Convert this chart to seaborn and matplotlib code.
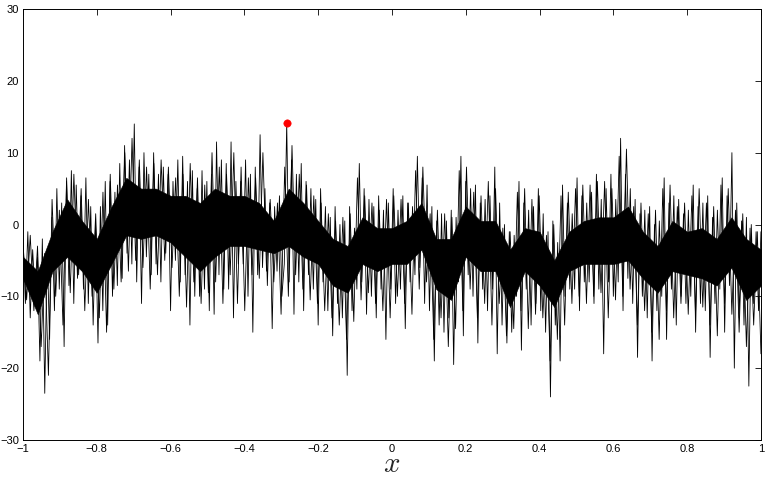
import numpy as np
import pandas as pd
import seaborn as sns
import matplotlib.pyplot as plt

# dense core of the trace (upper / lower edge), 51 columns across [-1, 1]
core_hi = [-4.5, -6.5, -1, 3.5, 0.5, -2, 2.5, 6.5, 5, 5, 4, 4, 3, 5, 4, 4, 3, 0.5, 5,
           3, 0.5, -2, -3, 1, -0.5, -0.5, 0.5, 3, -2, -2, 2.5, 0.5, 0.5, -3.5, -0.5,
           -1, -5, -1, 0.5, 1, 1, 2.5, -1, -3, 0.5, -1, -0.5, -2, 1, -2, -3.5]
core_lo = [-7.5, -12.5, -6.5, -4.5, -6.5, -9.5, -5.5, -1.5, -2, -1.5, -2.5, -4.5, -6.5,
           -4.5, -3, -3, -3.5, -4, -3, -4.5, -5.5, -8.5, -9.5, -5.5, -6.5, -5.5, -5.5,
           -3.5, -9, -10.5, -4.5, -6.5, -6.5, -11.5, -6.5, -8.5, -11.5, -6.5, -5.5,
           -5.5, -5.5, -5, -7.5, -9.5, -6.5, -7, -7.5, -8.5, -6, -10.5, -8.5]

# tallest spikes of the trace, read left to right (6 per column)
spikes = [
    -2, -11, -1, -13, -3.5, -10,
    -4.5, -19, -2, -23.5, -3.5, -16,
    1, -12, 5, -9, 3, -17,
    6, -8.5, 7.5, -11, 5.5, -7,
    4, -9, 6.5, -11, 2.5, -14,
    0, -16.5, 2.5, -12, 6, -14,
    6, -10, 4.5, -8.5, 8.5, -7.5,
    11, -4, 9, -5.5, 14, -8,
    8, -11, 10, -4.5, 7, -7,
    10, -5.5, 7, -8, 8, -4,
    7, -12, 6, -5, 9, -8,
    9.5, -7, 6, -14, 7.5, -10,
    5, -10, 7.5, -9, 6, -12,
    7, -12.5, 11.5, -7, 9, -9,
    8.5, -9, 11.5, -13, 6, -5.5,
    6, -5.5, 9, -10, 7, -15,
    8, -7, 12.5, -6, 5, -8.5,
    3, -14.5, 2.5, -6.5, 4, -10,
    -5.5, 14.1, -8, 9, -12.5, 7,
    -8, 8.5, -12, 6, -7, 5,
    -9, 3.5, -14, 5, -8, 2.5,
    -12, 1, -15.5, 2.5, -11, 0,
    -13, 0.5, -21, 2.5, -12, -0.5,
    -9, 8.5, -8, 5, -12.5, 3.5,
    -10, 2.5, -13, 4, -9, 2,
    -16, 3, -9, 5, -11, 2,
    -9, 4, -14.5, 3, -8, 2.5,
    -7, 9.5, -6, 6.5, -11, 5.5,
    -12, 2.5, -19, 0.5, -14, 1.5,
    -15, 0.5, -13, 2, -19.5, 1,
    -8, 9.5, -15.5, 6, -7, 5,
    -10, 5.5, -16.5, 3, -9, 3.5,
    -12, 4, -9, 8, -18, 3,
    -14, 0, -16.5, -1, -15, -1.5,
    -10, 6, -17.5, 3, -9, 2,
    -14, 2.5, -11, 5, -12, 1.5,
    -15, -1, -24, 0.5, -14, -2.5,
    -19, 5.5, -10, 3, -9, 1.5,
    -9, 6.5, -12, 4, -8, 3,
    -8, 4.5, -11, 7, -9, 3.5,
    -18, 5, -8, 7, -10, 3.5,
    -8, 12, -12, 7, -7.5, 5,
    -11, 3.5, -18.5, 1.5, -10, 2,
    -13, 2.5, -19, 0, -12, 0.5,
    -10, 6.5, -16, 3, -9, 4,
    -14, 3.5, -10, 1.5, -11, 2,
    -10, 5.5, -15, 2.5, -11, 3,
    -12, 4, -18.5, 1, -11, 2,
    -9, 6.5, -15, 4, -8.5, 10,
    -20, 3, -13, 0.5, -14, 1,
    -22.5, 0, -11, -1, -12, -1,
]

# smaller in-between wiggles, read left to right (4 per column)
wiggles = [
    -2.5, -10.5, -1.5, -12,
    -3, -17, -4, -21,
    3.5, -10, 2, -14,
    6.5, -9.5, 7, -7.5,
    5, -12, 3.5, -10,
    1.5, -13, 4.5, -15,
    7, -9, 5.5, -8,
    10, -6.5, 12, -5,
    9, -6, 8, -9,
    8.5, -7, 9, -5,
    8, -6, 6.5, -10,
    7, -11.5, 8.5, -8,
    6.5, -11, 5.5, -9.5,
    10, -8, 8, -11,
    7, -7, 10, -11,
    8, -12, 6.5, -7,
    6.5, -7.5, 10, -6.5,
    3.5, -8, 3, -12.5,
    8, -10, 11, -7,
    7, -9, 5.5, -10.5,
    4, -11, 3, -12,
    1.5, -13, 0.5, -14,
    1, -16, 1.5, -13.5,
    6.5, -10.5, 4, -9.5,
    3, -11, 2, -12,
    3.5, -13, 4, -10,
    3.5, -11, 3, -12.5,
    7.5, -9, 8, -8,
    1.5, -16, 2, -13,
    1.5, -17, 1, -14.5,
    7.5, -12, 8, -9,
    4.5, -13, 4, -11,
    6, -14, 5, -11,
    -0.5, -15.5, -1, -14.5,
    4.5, -12, 5, -14.5,
    3.5, -12.5, 4, -13,
    -1.5, -19, 0, -16,
    4, -14, 4.5, -11,
    5, -10, 5.5, -11,
    5.5, -10, 6, -9.5,
    6, -13, 5, -10.5,
    9.5, -10, 10.5, -9,
    2.5, -14, 3, -12,
    1.5, -15, 2, -16,
    5, -12, 5.5, -13,
    2.5, -11, 3, -12.5,
    4, -12.5, 5, -11.5,
    3, -14, 2.5, -15.5,
    5.5, -11, 5, -12.5,
    2, -15, 1.5, -17,
    -0.5, -14, -1, -18,
]

xtick_vals = [-1, -0.8, -0.6, -0.4, -0.2, 0, 0.2, 0.4, 0.6, 0.8, 1]
xtick_labels = ["\u22121", "\u22120.8", "\u22120.6", "\u22120.4", "\u22120.2", "0",
                "0.2", "0.4", "0.6", "0.8", "1"]
ytick_vals = [-30, -20, -10, 0, 10, 20, 30]

df = pd.DataFrame({"x": np.linspace(-1, 1, len(spikes)), "y": spikes})
dw = pd.DataFrame({"x": np.linspace(-1, 1, len(wiggles)), "y": wiggles})
core = pd.DataFrame({"x": np.linspace(-1, 1, len(core_hi)), "hi": core_hi, "lo": core_lo})
peak = df.loc[[df["y"].idxmax()]]

sns.set_style("white")
plt.rcParams["font.family"] = ["Liberation Sans", "DejaVu Sans"]
plt.rcParams["mathtext.fontset"] = "cm"

fig = plt.figure(figsize=(7.66, 4.79), dpi=100)
ax = fig.add_axes([0.030, 0.0814, 0.9634, 0.8998])

ax.fill_between(core["x"], core["lo"], core["hi"], color="black", lw=0.4)
sns.lineplot(data=dw, x="x", y="y", sort=False, estimator=None, color="black",
             lw=0.6, ax=ax)
sns.lineplot(data=df, x="x", y="y", sort=False, estimator=None, color="black",
             lw=0.6, ax=ax)
sns.scatterplot(data=peak, x="x", y="y", color="red", s=28, edgecolor="red", zorder=5, ax=ax)

ax.set_xlim(-1, 1)
ax.set_ylim(-30, 30)
ax.set_xticks(xtick_vals)
ax.set_xticklabels(xtick_labels)
ax.set_yticks(ytick_vals)
ax.tick_params(direction="in", top=True, right=True, length=4, width=0.6,
               labelsize=8, pad=3, colors="black")
for s in ax.spines.values():
    s.set_visible(True)
    s.set_color("black")
    s.set_linewidth(0.7)

ax.set_xlabel("$x$", fontsize=21, labelpad=-3)
ax.set_ylabel("")

fig.savefig("out.png", dpi=100)
